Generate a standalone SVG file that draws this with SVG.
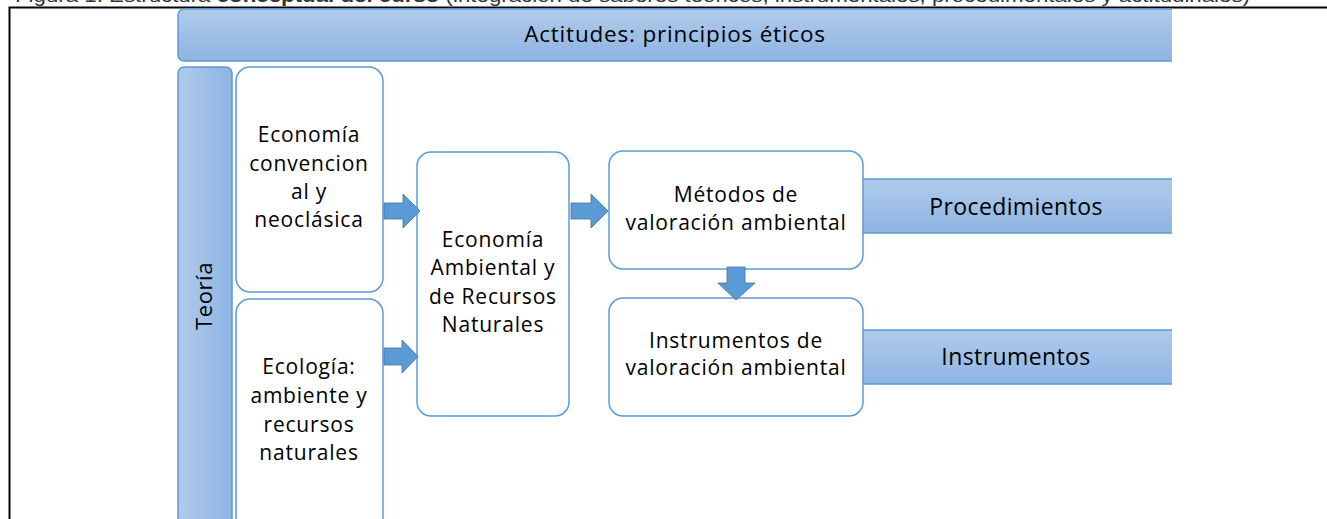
<svg xmlns="http://www.w3.org/2000/svg" width="1327" height="519" viewBox="0 0 1327 519">
<style>
text{font-family:"Open Sans","Noto Sans","Liberation Sans",sans-serif;fill:#000;}
.t{font-size:21px;letter-spacing:0.8px;text-anchor:middle;}
.b{font-size:22.5px;letter-spacing:0.8px;text-anchor:middle;}
.s{font-size:23px;letter-spacing:0.4px;text-anchor:middle;}
.box{fill:#fff;stroke:#5b9bd5;stroke-width:1.5;}
.bar{fill:url(#gv);stroke:#5b9bd5;stroke-width:1.5;}
.arr{fill:#5b9bd5;stroke:#41719c;stroke-width:0.8;}
</style>
<defs>
<linearGradient id="gv" x1="0" y1="0" x2="0" y2="1"><stop offset="0" stop-color="#b0cbea"/><stop offset="1" stop-color="#8eb4e3"/></linearGradient>
<linearGradient id="gh" x1="0" y1="0" x2="1" y2="0"><stop offset="0" stop-color="#b0cbea"/><stop offset="1" stop-color="#8eb4e3"/></linearGradient>
<clipPath id="cr"><rect x="0" y="0" width="1172" height="519"/></clipPath>
</defs>
<rect x="0" y="0" width="1327" height="519" fill="#fff"/>
<text x="15" y="1.5" style="font-size:18px;font-family:'Liberation Sans',sans-serif;fill:#333" textLength="1235" lengthAdjust="spacingAndGlyphs">Figura 1. Estructura <tspan font-weight="bold">conceptual del curso</tspan> (integración de saberes teóricos, instrumentales, procedimentales y actitudinales)</text>
<path d="M1327 7.5H9.5V519" fill="none" stroke="#000" stroke-width="2"/>
<g clip-path="url(#cr)">
<g id="actitudes"><rect class="bar" x="178" y="9" width="1000" height="52" rx="6"/><text class="b" x="675" y="42">Actitudes: principios éticos</text></g>
<g id="procedimientos"><rect class="bar" x="858" y="179" width="320" height="54" rx="6"/><text class="s" x="1016" y="215">Procedimientos</text></g>
<g id="instrumentos"><rect class="bar" x="858" y="330" width="320" height="54" rx="6"/><text class="s" x="1016" y="365">Instrumentos</text></g>
</g>
<g id="teoria"><rect x="178" y="67" width="54" height="470" rx="6" fill="url(#gh)" stroke="#5b9bd5" stroke-width="1.5"/><text class="b" style="font-size:22px;letter-spacing:0.6px" transform="translate(212,296) rotate(-90)">Teoría</text></g>
<g id="economia-convencional"><rect class="box" x="236" y="67" width="147" height="225" rx="14"/>
<text class="t" x="309" y="142">Economía</text><text class="t" x="309" y="171">convencion</text><text class="t" x="309" y="199">al y</text><text class="t" x="309" y="227">neoclásica</text></g>
<g id="ecologia"><rect class="box" x="236" y="299" width="147" height="240" rx="14"/>
<text class="t" x="309" y="374">Ecología:</text><text class="t" x="309" y="403">ambiente y</text><text class="t" x="309" y="432">recursos</text><text class="t" x="309" y="460">naturales</text></g>
<g id="economia-ambiental"><rect class="box" x="417" y="152" width="152" height="264" rx="14"/>
<text class="t" x="493" y="247">Economía</text><text class="t" x="493" y="275">Ambiental y</text><text class="t" x="493" y="304">de Recursos</text><text class="t" x="493" y="332">Naturales</text></g>
<g id="metodos"><rect class="box" x="609" y="151" width="254" height="118" rx="14"/>
<text class="t" x="736" y="202">Métodos de</text><text class="t" x="736" y="230">valoración ambiental</text></g>
<g id="instrumentos-valoracion"><rect class="box" x="609" y="298" width="254" height="118" rx="14"/>
<text class="t" x="736" y="348">Instrumentos de</text><text class="t" x="736" y="375">valoración ambiental</text></g>
<g id="connectors">
<path class="arr" d="M384 203H403V194L420 211L403 228V219H384Z"/>
<path class="arr" d="M384 348H402V340L418 356.5L402 373V365H384Z"/>
<path class="arr" d="M571 203H591V194L608 211L591 228V219H571Z"/>
<path class="arr" d="M727 267H745V283H755L736 300L718 283H727Z"/>
</g>
</svg>
